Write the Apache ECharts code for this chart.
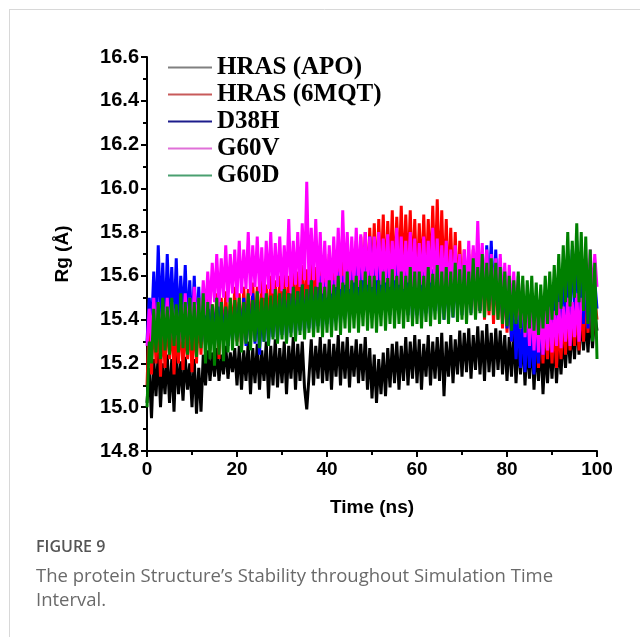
<!DOCTYPE html>
<html><head><meta charset="utf-8">
<script src="https://cdn.jsdelivr.net/npm/echarts@6/dist/echarts.min.js"></script>
<style>html,body{margin:0;padding:0;background:#fff;}#c{width:640px;height:637px;}</style>
</head><body><div id="c"></div>
<script>
const seriesNames = ['HRAS (APO)', 'HRAS (6MQT)', 'D38H', 'G60V', 'G60D'];
const timeStepNs = 0.5;
const xTicks = [0, 20, 40, 60, 80, 100];
const yTicks = [14.8, 15.0, 15.2, 15.4, 15.6, 15.8, 16.0, 16.2, 16.4, 16.6];

const rgApo = [
15.02,15.18,14.95,15.22,15.05,15.25,15.00,15.20,15.06,15.24,15.02,15.22,14.98,15.26,15.06,15.21,15.03,15.23,15.08,15.20,
15.00,15.22,14.97,15.18,14.98,15.24,15.10,15.26,15.12,15.25,15.14,15.27,15.12,15.24,15.15,15.28,15.13,15.25,15.16,15.27,
15.10,15.28,15.08,15.26,15.12,15.30,15.06,15.27,15.11,15.29,15.08,15.26,15.12,15.30,15.04,15.28,15.10,15.31,15.09,15.27,
15.11,15.30,15.06,15.28,15.13,15.32,15.08,15.29,15.12,15.30,15.09,14.99,15.14,15.31,15.10,15.28,15.13,15.32,15.11,15.29,
15.12,15.31,15.08,15.29,15.14,15.33,15.10,15.30,15.13,15.32,15.09,15.28,15.14,15.31,15.11,15.29,15.12,15.32,15.08,15.27,
15.04,15.24,15.02,15.22,15.06,15.25,15.05,15.27,15.09,15.29,15.11,15.30,15.08,15.28,15.12,15.32,15.10,15.30,15.13,15.33,
15.11,15.31,15.08,15.29,15.14,15.33,15.10,15.30,15.13,15.32,15.12,15.34,15.05,15.30,15.14,15.33,15.11,15.31,15.15,15.35,
15.14,15.34,15.16,15.36,15.13,15.33,15.17,15.37,15.15,15.35,15.12,15.38,15.16,15.34,15.14,15.36,15.17,15.35,15.15,15.33,
15.12,15.32,15.14,15.35,15.11,15.31,15.15,15.34,15.10,15.30,15.13,15.33,15.08,15.29,15.12,15.32,15.06,15.28,15.11,15.31,
15.13,15.33,15.11,15.30,15.15,15.34,15.18,15.36,15.20,15.38,15.22,15.40,15.24,15.42,15.26,15.41,15.25,15.44,15.27,15.43,
15.35];

const rg6mqt = [
15.10,15.40,15.15,15.45,15.20,15.42,15.14,15.38,15.18,15.44,15.22,15.40,15.15,15.36,15.20,15.42,15.17,15.38,15.22,15.40,
15.16,15.42,15.20,15.45,15.24,15.48,15.28,15.50,15.26,15.47,15.30,15.52,15.22,15.50,15.30,15.53,15.28,15.50,15.32,15.55,
15.30,15.52,15.27,15.55,15.32,15.54,15.30,15.57,15.34,15.55,15.31,15.58,15.35,15.56,15.33,15.60,15.36,15.58,15.34,15.60,
15.38,15.62,15.36,15.60,15.40,15.64,15.38,15.62,15.42,15.65,15.40,15.63,15.44,15.66,15.42,15.64,15.45,15.68,15.43,15.66,
15.46,15.70,15.44,15.68,15.48,15.72,15.46,15.70,15.50,15.74,15.48,15.72,15.52,15.76,15.50,15.78,15.54,15.80,15.52,15.82,
15.56,15.84,15.54,15.86,15.58,15.88,15.55,15.85,15.58,15.90,15.56,15.87,15.60,15.92,15.58,15.88,15.60,15.90,15.57,15.86,
15.55,15.84,15.58,15.88,15.56,15.86,15.60,15.92,15.58,15.95,15.56,15.90,15.54,15.86,15.52,15.82,15.50,15.80,15.48,15.76,
15.46,15.72,15.44,15.70,15.46,15.72,15.42,15.68,15.44,15.70,15.40,15.66,15.42,15.68,15.38,15.64,15.40,15.62,15.36,15.60,
15.34,15.58,15.30,15.55,15.32,15.56,15.28,15.52,15.25,15.48,15.22,15.45,15.20,15.44,15.18,15.42,15.20,15.40,15.22,15.42,
15.20,15.40,15.18,15.38,15.22,15.42,15.24,15.45,15.26,15.44,15.28,15.46,15.26,15.50,15.30,15.52,15.34,15.55,15.32,15.50,
15.40];

const rgD38H = [
15.30,15.50,15.35,15.62,15.38,15.74,15.40,15.66,15.36,15.70,15.42,15.64,15.38,15.68,15.35,15.60,15.40,15.65,15.36,15.58,
15.34,15.60,15.32,15.55,15.30,15.50,15.28,15.48,15.30,15.46,15.28,15.50,15.32,15.48,15.30,15.45,15.28,15.44,15.30,15.46,
15.32,15.48,15.30,15.50,15.28,15.47,15.31,15.52,15.29,15.48,15.24,15.46,15.30,15.50,15.28,15.47,15.32,15.52,15.30,15.50,
15.33,15.54,15.30,15.52,15.34,15.55,15.32,15.53,15.35,15.56,15.33,15.54,15.36,15.58,15.34,15.55,15.37,15.60,15.35,15.57,
15.38,15.60,15.36,15.58,15.40,15.62,15.38,15.60,15.42,15.65,15.40,15.62,15.44,15.68,15.42,15.70,15.46,15.74,15.44,15.78,
15.45,15.72,15.48,15.76,15.46,15.70,15.44,15.68,15.42,15.66,15.45,15.70,15.43,15.66,15.44,15.64,15.42,15.66,15.40,15.62,
15.42,15.64,15.40,15.62,15.43,15.66,15.41,15.63,15.44,15.65,15.42,15.62,15.40,15.60,15.43,15.64,15.41,15.62,15.44,15.66,
15.42,15.64,15.45,15.68,15.43,15.65,15.46,15.70,15.44,15.66,15.48,15.74,15.50,15.76,15.46,15.72,15.44,15.68,15.40,15.62,
15.36,15.55,15.30,15.48,15.22,15.42,15.18,15.40,15.16,15.38,15.18,15.36,15.15,15.38,15.20,15.40,15.24,15.45,15.28,15.50,
15.30,15.55,15.34,15.60,15.36,15.66,15.40,15.70,15.42,15.72,15.44,15.76,15.40,15.70,15.38,15.66,15.36,15.62,15.34,15.58,
15.45];

const rgG60V = [
15.28,15.45,15.30,15.50,15.32,15.48,15.30,15.46,15.33,15.50,15.30,15.48,15.32,15.45,15.28,15.47,15.30,15.52,15.32,15.50,
15.30,15.55,15.35,15.50,15.38,15.58,15.42,15.62,15.45,15.66,15.48,15.70,15.46,15.68,15.50,15.74,15.48,15.70,15.52,15.72,
15.50,15.76,15.52,15.72,15.54,15.80,15.51,15.74,15.55,15.78,15.52,15.73,15.50,15.76,15.54,15.80,15.52,15.75,15.55,15.78,
15.53,15.74,15.55,15.86,15.52,15.76,15.56,15.80,15.55,15.84,15.58,16.03,15.56,15.82,15.58,15.86,15.55,15.80,15.52,15.76,
15.50,15.74,15.52,15.78,15.55,15.82,15.54,15.90,15.56,15.80,15.54,15.78,15.57,15.82,15.55,15.79,15.58,15.80,15.56,15.78,
15.55,15.78,15.58,15.80,15.56,15.77,15.57,15.79,15.55,15.76,15.58,15.82,15.56,15.78,15.54,15.76,15.57,15.80,15.55,15.77,
15.53,15.75,15.56,15.78,15.54,15.76,15.57,15.82,15.55,15.77,15.52,15.74,15.54,15.76,15.50,15.72,15.52,15.74,15.50,15.70,
15.48,15.72,15.52,15.76,15.50,15.74,15.54,15.85,15.52,15.75,15.50,15.72,15.48,15.70,15.46,15.68,15.48,15.70,15.45,15.66,
15.44,15.65,15.42,15.62,15.40,15.60,15.36,15.56,15.32,15.50,15.28,15.48,15.26,15.46,15.25,15.45,15.24,15.44,15.26,15.46,
15.25,15.44,15.28,15.48,15.27,15.46,15.30,15.50,15.28,15.48,15.32,15.52,15.30,15.50,15.45,15.68,15.50,15.72,15.48,15.70,
15.55];

const rgG60D = [
15.00,15.30,15.20,15.45,15.25,15.48,15.22,15.50,15.26,15.46,15.24,15.50,15.28,15.47,15.25,15.52,15.27,15.48,15.24,15.50,
15.26,15.48,15.23,15.50,15.27,15.52,15.20,15.48,15.22,15.47,15.19,15.50,15.24,15.48,15.21,15.46,15.25,15.50,15.26,15.49,
15.28,15.50,15.25,15.48,15.29,15.52,15.26,15.49,15.30,15.53,15.27,15.50,15.30,15.52,15.28,15.51,15.31,15.54,15.29,15.52,
15.31,15.54,15.29,15.52,15.32,15.55,15.30,15.53,15.33,15.56,15.31,15.54,15.34,15.58,15.32,15.55,15.34,15.57,15.32,15.55,
15.34,15.58,15.32,15.56,15.35,15.60,15.33,15.57,15.36,15.62,15.34,15.58,15.36,15.60,15.34,15.58,15.37,15.62,15.35,15.60,
15.36,15.60,15.34,15.58,15.37,15.62,15.35,15.59,15.38,15.63,15.36,15.60,15.38,15.62,15.36,15.60,15.39,15.64,15.37,15.62,
15.38,15.62,15.36,15.60,15.39,15.64,15.37,15.61,15.40,15.65,15.38,15.62,15.40,15.64,15.38,15.62,15.41,15.66,15.39,15.63,
15.40,15.65,15.38,15.62,15.42,15.68,15.40,15.64,15.43,15.70,15.41,15.66,15.44,15.68,15.42,15.66,15.40,15.64,15.38,15.62,
15.37,15.60,15.35,15.58,15.38,15.62,15.36,15.60,15.34,15.58,15.36,15.60,15.35,15.57,15.33,15.56,15.36,15.60,15.38,15.62,
15.40,15.65,15.42,15.70,15.45,15.74,15.48,15.80,15.46,15.76,15.50,15.84,15.48,15.80,15.44,15.78,15.38,15.72,15.30,15.66,
15.22];

const seriesValues = [rgApo, rg6mqt, rgD38H, rgG60V, rgG60D];
const lineColors = ['#000000', '#ff0000', '#0000ff', '#ff00ff', '#008000'];
const legendColors = ['#808080', '#c85a5a', '#1c1c8c', '#e070d8', '#4aa070'];

function pairs(vals) {
  return vals.map((v, i) => [i * timeStepNs, v]);
}

const chart = echarts.init(document.getElementById('c'));
const axisFont = { fontFamily: 'Liberation Sans, Arial, sans-serif', fontWeight: 'bold', color: '#000' };

chart.setOption({
  animation: false,
  backgroundColor: '#fff',
  grid: { left: 147, right: 43, top: 57, bottom: 186, containLabel: false },
  legend: {
    orient: 'vertical', left: 168, top: 54, padding: 0, itemWidth: 44, itemHeight: 2, itemGap: 0,
    icon: 'rect',
    textStyle: { fontFamily: 'Liberation Serif, Times New Roman, serif', fontWeight: 'bold', fontSize: 25, lineHeight: 27, color: '#000' },
    data: seriesNames.map((n, i) => ({ name: n, itemStyle: { color: legendColors[i] } }))
  },
  xAxis: {
    type: 'value', min: 0, max: 100, interval: 20,
    name: 'Time (ns)', nameLocation: 'middle', nameGap: 47,
    nameTextStyle: Object.assign({ fontSize: 19 }, axisFont),
    axisLine: { lineStyle: { color: '#000', width: 2 } },
    axisTick: { inside: false, length: 6, lineStyle: { color: '#000', width: 2 } },
    minorTick: { show: true, splitNumber: 2, length: 4, lineStyle: { color: '#000', width: 2 } },
    splitLine: { show: false },
    axisLabel: Object.assign({ fontSize: 19, margin: 9, formatter: v => xTicks.includes(v) ? String(v) : '' }, axisFont)
  },
  yAxis: {
    type: 'value', min: 14.8, max: 16.6, interval: 0.2,
    name: 'Rg (Å)', nameLocation: 'middle', nameGap: 75, nameRotate: 90,
    nameTextStyle: Object.assign({ fontSize: 19 }, axisFont),
    axisLine: { show: true, lineStyle: { color: '#000', width: 2 } },
    axisTick: { show: true, inside: false, length: 6, lineStyle: { color: '#000', width: 2 } },
    minorTick: { show: true, splitNumber: 2, length: 4, lineStyle: { color: '#000', width: 2 } },
    splitLine: { show: false },
    axisLabel: Object.assign({ fontSize: 20, margin: 8, formatter: v => {
      const f = yTicks.find(t => Math.abs(t - v) < 1e-6);
      return f !== undefined ? f.toFixed(1) : '';
    } }, axisFont)
  },
  series: seriesNames.map((n, i) => ({
    name: n, type: 'line', data: pairs(seriesValues[i]),
    showSymbol: false, symbol: 'none', sampling: null, z: 2 + i,
    lineStyle: { color: lineColors[i], width: 3, join: 'bevel' },
    itemStyle: { color: legendColors[i] }
  })),
  graphic: [
    { type: 'line', shape: { x1: 9, y1: 9.5, x2: 640, y2: 9.5 }, style: { stroke: '#d8d8d8', lineWidth: 1 } },
    { type: 'line', shape: { x1: 9.5, y1: 9, x2: 9.5, y2: 637 }, style: { stroke: '#d8d8d8', lineWidth: 1 } },
    { type: 'text', left: 36, top: 539, style: { text: 'FIGURE 9', font: '600 16px "Open Sans", sans-serif', fill: '#555' } },
    { type: 'text', left: 36, top: 567, style: { text: 'The protein Structure\u2019s Stability throughout Simulation Time', font: '18.5px "Open Sans", sans-serif', fill: '#6a6a6a' } },
    { type: 'text', left: 36, top: 591, style: { text: 'Interval.', font: '18.5px "Open Sans", sans-serif', fill: '#6a6a6a' } }
  ]
});
</script>
</body></html>
